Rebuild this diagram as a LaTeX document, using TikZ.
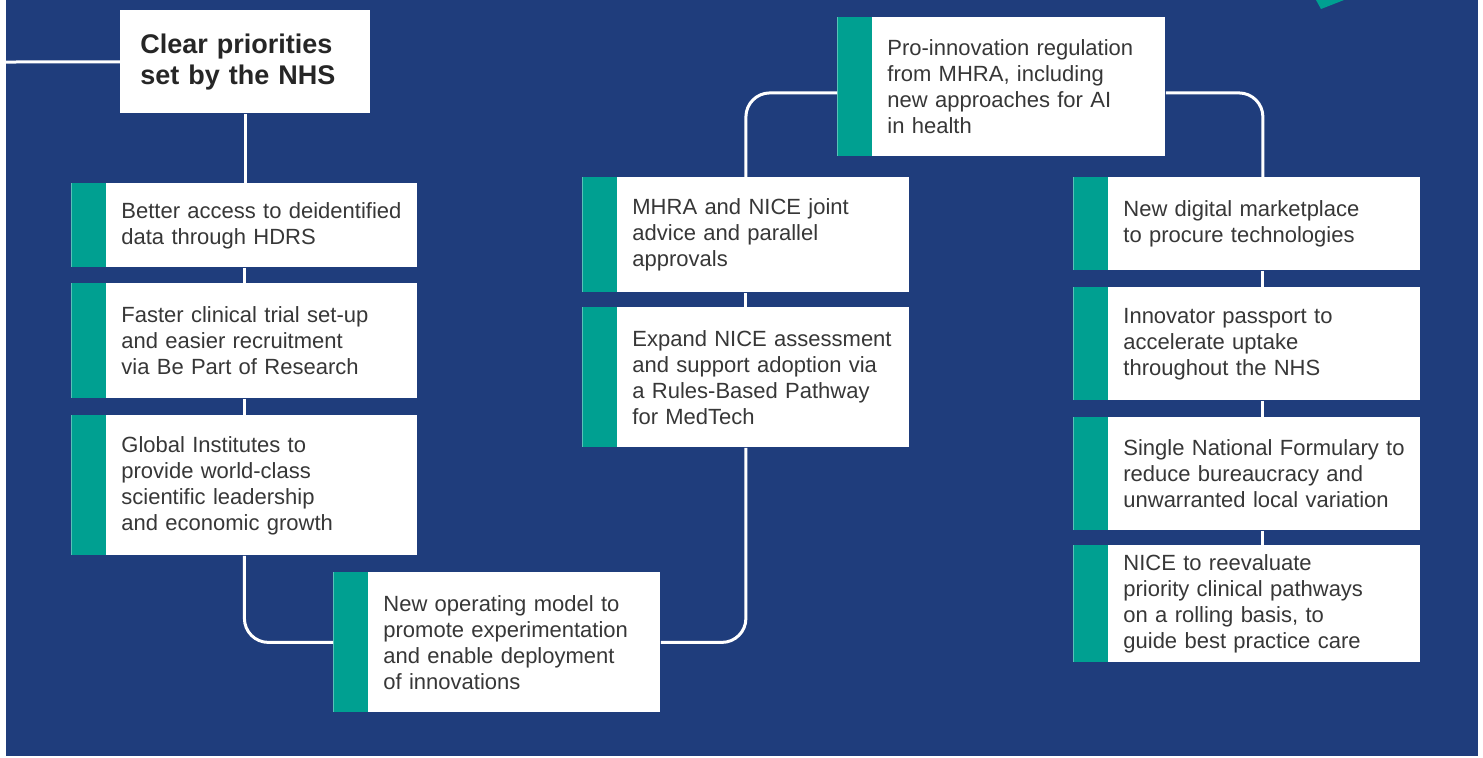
\documentclass[tikz,border=0pt]{standalone}
\usepackage{fontspec}
\setmainfont{Liberation Sans}
\usepackage{tikz}

\definecolor{nhsblue}{RGB}{31,61,124}
\definecolor{nhsteal}{RGB}{0,160,145}
\definecolor{cardtext}{RGB}{55,55,55}

\begin{document}
\begin{tikzpicture}[x=0.5pt,y=-0.5pt,
  link/.style={draw=white,line width=1.5pt},
  elbow/.style={link,rounded corners=12pt},
  card/.style={anchor=north west,fill=white,text=cardtext,text width=#1,
    inner xsep=4pt,inner ysep=0pt,align=left,
    font=\fontsize{11}{13}\selectfont,
    execute at begin node={\leftskip=21pt},
    path picture={\fill[nhsteal] (path picture bounding box.north west)
      rectangle ([xshift=17.5pt]path picture bounding box.south west);}}]
\useasboundingbox (0,0) rectangle (1483,757);
\fill[white] (0,0) rectangle (1483,757);
\fill[nhsblue] (6,0) rectangle (1478,756);
\fill[nhsteal] (1316,0) -- (1344,0) -- (1321,9) -- cycle;

\node[anchor=north west,fill=white,text=black!85,text width=105pt,
  inner xsep=10pt,inner ysep=0pt,minimum height=51.5pt,align=left,
  font=\fontsize{13.5}{15.5}\selectfont\bfseries] (head) at (120,10)
  {Clear priorities\\set by the NHS};

\node[card=165pt,minimum height=42pt] (a) at (71,183)
  {Better access to deidentified\\data through HDRS};
\node[card=165pt,minimum height=57.5pt] (b) at (71,283)
  {Faster clinical trial set-up\\and easier recruitment\\via Be Part of Research};
\node[card=165pt,minimum height=70pt] (c) at (71,415)
  {Global Institutes to\\provide world-class\\scientific leadership\\and economic growth};
\node[card=155.5pt,minimum height=70pt] (d) at (333,572)
  {New operating model to\\promote experimentation\\and enable deployment\\of innovations};
\node[card=155.5pt,minimum height=57.5pt] (e) at (582,177)
  {MHRA and NICE joint\\advice and parallel\\approvals};
\node[card=155.5pt,minimum height=70pt] (f) at (582,307)
  {Expand NICE assessment\\and support adoption via\\a Rules-Based Pathway\\for MedTech};
\node[card=156pt,minimum height=69.5pt] (g) at (837,17)
  {Pro-innovation regulation\\from MHRA, including\\new approaches for AI\\in health};
\node[card=165.5pt,minimum height=46.5pt] (h) at (1073,177)
  {New digital marketplace\\to procure technologies};
\node[card=165.5pt,minimum height=56.5pt] (i) at (1073,287)
  {Innovator passport to\\accelerate uptake\\throughout the NHS};
\node[card=165.5pt,minimum height=56.5pt] (j) at (1073,417)
  {Single National Formulary to\\reduce bureaucracy and\\unwarranted local variation};
\node[card=165.5pt,minimum height=58.5pt] (k) at (1073,545)
  {NICE to reevaluate\\priority clinical pathways\\on a rolling basis, to\\guide best practice care};

\coordinate (edge) at (6,62);
\draw[link] (edge) -- (head.west);
\draw[link] (head.south) -- (head.south |- a.north);
\draw[link] (a.south) -- (b.north);
\draw[link] (b.south) -- (c.north);
\draw[elbow] (c.south) |- (d.west);
\draw[elbow] (d.east) -| (f.south);
\draw[link] (f.north) -- (e.south);
\draw[elbow] (e.north) |- ([yshift=-3pt]g.west);
\draw[elbow] ([yshift=-3pt]g.east) -| ([xshift=8pt]h.north);
\draw[link] ([xshift=8pt]h.south) -- ([xshift=8pt]i.north);
\draw[link] ([xshift=8pt]i.south) -- ([xshift=8pt]j.north);
\draw[link] ([xshift=8pt]j.south) -- ([xshift=8pt]k.north);
\end{tikzpicture}
\end{document}
